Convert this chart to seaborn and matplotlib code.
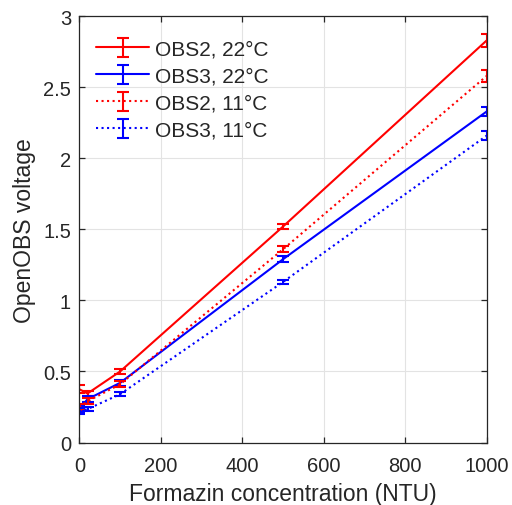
import matplotlib
matplotlib.use("Agg")
import matplotlib.pyplot as plt
import seaborn as sns
import pandas as pd
import numpy as np
from matplotlib.legend_handler import HandlerErrorbar
from matplotlib.container import ErrorbarContainer

# Data
ntu = [0, 20, 100, 500, 1000]
obs2_22 = [0.375, 0.345, 0.50, 1.52, 2.83]
obs3_22 = [0.235, 0.305, 0.42, 1.29, 2.33]
obs2_11 = [0.25, 0.29, 0.41, 1.36, 2.58]
obs3_11 = [0.22, 0.235, 0.34, 1.13, 2.16]
err_obs2_22 = [0.03, 0.02, 0.02, 0.02, 0.045]
err_obs3_22 = [0.02, 0.02, 0.02, 0.02, 0.03]
err_obs2_11 = [0.02, 0.02, 0.02, 0.02, 0.04]
err_obs3_11 = [0.02, 0.015, 0.015, 0.015, 0.03]
labels = ["OBS2, 22°C", "OBS3, 22°C", "OBS2, 11°C", "OBS3, 11°C"]
colors = ["#ff0000", "#0000ff", "#ff0000", "#0000ff"]
styles = ["-", "-", ":", ":"]

series = [obs2_22, obs3_22, obs2_11, obs3_11]
errs = [err_obs2_22, err_obs3_22, err_obs2_11, err_obs3_11]

sns.set_theme(style="white")
plt.rcParams['font.family'] = ['Liberation Sans', 'DejaVu Sans']

fig = plt.figure(figsize=(5.12, 5.06), dpi=100)
ax = fig.add_axes([0.155, 0.1235, 0.7955, 0.8423])

df = pd.concat([pd.DataFrame({"x": ntu, "y": s, "series": l})
                for s, l in zip(series, labels)], ignore_index=True)

handles = []
for s, e, l, c, ls in zip(series, errs, labels, colors, styles):
    sub = df[df["series"] == l]
    sns.lineplot(data=sub, x="x", y="y", ax=ax, color=c, linestyle=ls,
                 linewidth=1.5, legend=False)
    ax.errorbar(ntu, s, yerr=e, fmt='none', ecolor=c, elinewidth=1.5,
                capsize=4, capthick=1.5)
    h = ax.errorbar([-1e6], [-1e6], yerr=[0.1], color=c, linestyle=ls,
                    linewidth=1.5, elinewidth=1.5, capsize=4, capthick=1.5,
                    label=l)
    handles.append(h)

ax.set_xlim(0, 1000)
ax.set_ylim(0, 3)
ax.set_xticks([0, 200, 400, 600, 800, 1000])
ax.set_yticks([0, 0.5, 1, 1.5, 2, 2.5, 3])
ax.set_yticklabels(["0", "0.5", "1", "1.5", "2", "2.5", "3"])
ax.grid(True, color="#e3e3e3", linewidth=0.8)
ax.set_axisbelow(True)
for sp in ax.spines.values():
    sp.set_visible(True)
    sp.set_color("#262626")
    sp.set_linewidth(0.9)
ax.tick_params(direction="in", length=4, width=0.9, colors="#262626",
               labelsize=14.5, top=True, right=True, bottom=True, left=True,
               labeltop=False, labelright=False, pad=6)
ax.tick_params(axis="x", pad=9.5)
ax.set_xlabel("Formazin concentration (NTU)", fontsize=16.5, color="#262626",
              labelpad=5)
ax.set_ylabel("OpenOBS voltage", fontsize=16.5, color="#262626", labelpad=5)

leg = ax.legend(handles=handles, labels=labels, loc="upper left",
                bbox_to_anchor=(0.0, 0.984),
                handler_map={ErrorbarContainer: HandlerErrorbar(yerr_size=0.46)},
                frameon=False, fontsize=15, handlelength=2.55,
                borderaxespad=0.4, labelspacing=0.38, handletextpad=0.3)

fig.savefig("out.png", dpi=100)
